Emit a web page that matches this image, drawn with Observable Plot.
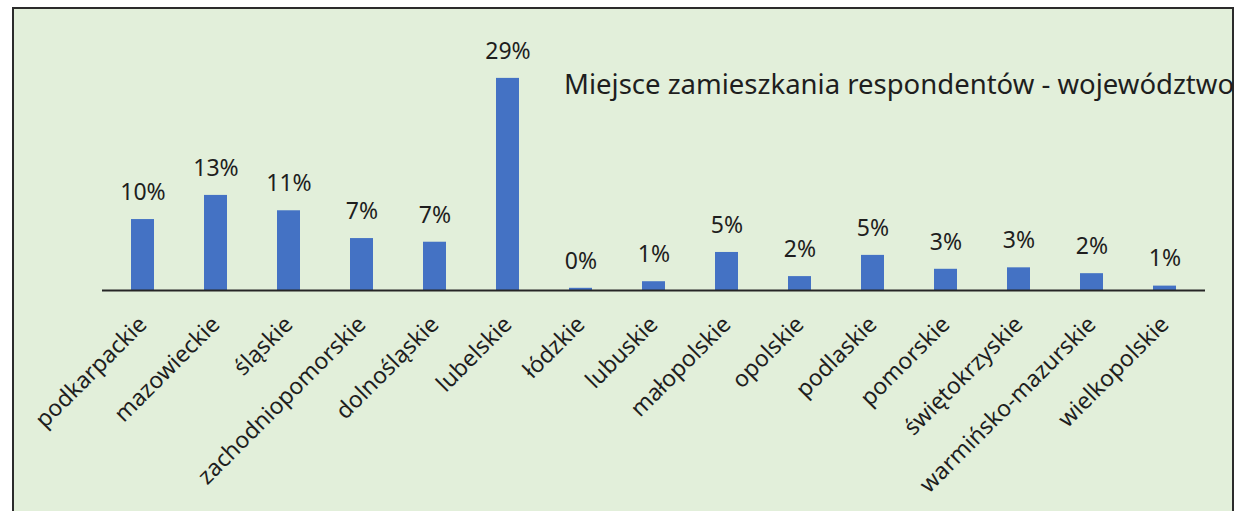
<!DOCTYPE html>
<html><head><meta charset="utf-8">
<script src="https://cdn.jsdelivr.net/npm/d3@7"></script>
<script src="https://cdn.jsdelivr.net/npm/@observablehq/plot@0.6"></script>
<style>
html,body{margin:0;padding:0;background:#fff;overflow:hidden;width:1234px;height:511px;}
#box{position:absolute;left:12px;top:7px;width:1218px;height:520px;background:#e2efda;border:2px solid #2b2b2b;box-sizing:content-box;}
#title{position:absolute;left:550px;top:58px;font-family:"Noto Sans",sans-serif;font-size:27.5px;line-height:34px;color:#1e1e1e;white-space:nowrap;}
#chart svg{display:block;}
</style></head>
<body>
<div id="box"><div id="chart"></div><div id="title">Miejsce zamieszkania respondentów - województwo</div></div>
<script>
const categories = ["podkarpackie","mazowieckie","śląskie","zachodniopomorskie","dolnośląskie","lubelskie","łódzkie","lubuskie","małopolskie","opolskie","podlaskie","pomorskie","świętokrzyskie","warmińsko-mazurskie","wielkopolskie"];
const values = [9.7, 13.0, 10.9, 7.1, 6.6, 29.0, 0.3, 1.2, 5.2, 1.9, 4.8, 2.9, 3.1, 2.3, 0.6];
const data = categories.map((c, i) => ({cat: c, v: values[i]}));

const chart = Plot.plot({
  width: 1218,
  height: 504,
  marginLeft: 88,
  marginRight: 27,
  marginTop: 25,
  marginBottom: 223,
  style: {background: "transparent", fontFamily: "Noto Sans, sans-serif", color: "#1e1e1e"},
  x: {domain: categories, paddingInner: 0.69, paddingOuter: 0.345, label: null},
  y: {domain: [0, 35], axis: null},
  marks: [
    Plot.barY(data, {x: "cat", y: "v", fill: "#4472c4"}),
    Plot.ruleY([0], {stroke: "#262626", strokeWidth: 2}),
    Plot.text(data, {x: "cat", y: "v", text: d => Math.round(d.v) + "%", dy: -27, fontSize: 23, fill: "#1e1e1e"}),
    Plot.axisX({tickRotate: -45, tickSize: 0, tickPadding: 30, fontSize: 23, label: null, fill: "#1e1e1e"})
  ]
});
document.getElementById("chart").appendChild(chart);
</script>
</body></html>
